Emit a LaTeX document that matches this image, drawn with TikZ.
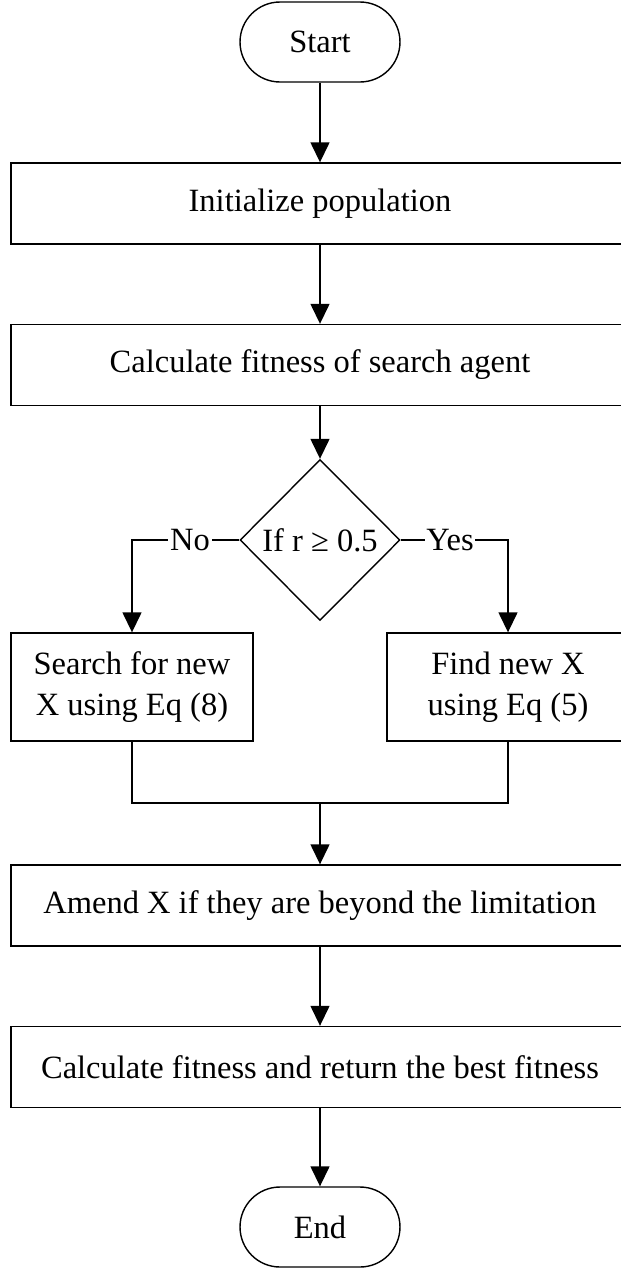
\documentclass[tikz,border=0pt]{standalone}
\usepackage{fontspec}
\setmainfont{Liberation Serif}
\usepackage{tikz}
\usetikzlibrary{shapes.geometric}
\usetikzlibrary{arrows.meta}

\begin{document}
\begin{tikzpicture}[x=0.02cm,y=-0.02cm,
  font=\fontsize{18.5}{23.2}\selectfont, line width=0.8pt,
  term/.style={rectangle,rounded corners=0.8cm,draw,minimum width=3.2cm,minimum height=1.6cm},
  wide/.style={rectangle,draw,minimum width=12.36cm,minimum height=1.62cm},
  side/.style={rectangle,draw,align=center,minimum width=4.84cm,minimum height=2.16cm},
  flow/.style={-{Triangle[width=0.38cm,length=0.4cm]}}]
\clip (0,0) rectangle (621,1268);
\node[term] (start) at (320,42) {Start};
\node[wide] (init) at (320,203.5) {Initialize population};
\node[wide] (fit) at (320,365) {Calculate fitness of search agent};
\node[diamond,draw,inner sep=0pt,minimum width=3.2cm,minimum height=3.22cm] (cond) at (320,540) {If r ≥ 0.5};
\node[side] (srch) at (132,687) {Search for new\\X using Eq (8)};
\node[side] (find) at (508,687) {Find new X\\using Eq (5)};
\coordinate (join) at (320,803);
\node[wide] (amend) at (320,905.5) {Amend X if they are beyond the limitation};
\node[wide] (best) at (320,1067) {Calculate fitness and return the best fitness};
\node[term] (end) at (320,1227) {End};

\draw[flow] (start) -- (init);
\draw[flow] (init) -- (fit);
\draw[flow] (fit) -- (cond);
\draw[flow] (cond.west) -| node[pos=0.23,fill=white,inner xsep=1pt]{No} (srch.north);
\draw[flow] (cond.east) -| node[pos=0.23,fill=white,inner xsep=1pt]{Yes} (find.north);
\draw (srch.south) |- (join) -| (find.south);
\draw[flow] (join) -- (amend);
\draw[flow] (amend) -- (best);
\draw[flow] (best) -- (end);

\end{tikzpicture}
\end{document}
